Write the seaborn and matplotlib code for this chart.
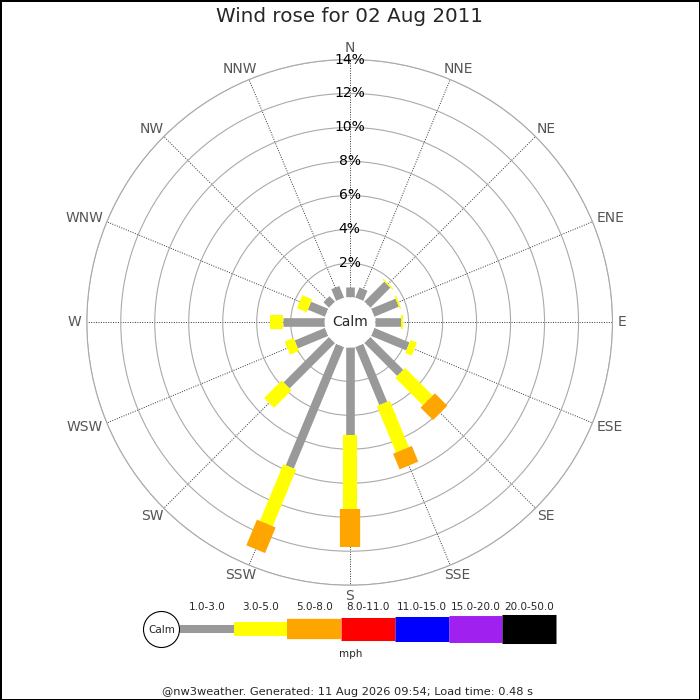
import numpy as np
import matplotlib
matplotlib.use('Agg')
import matplotlib.pyplot as plt
from matplotlib.patches import Circle
import seaborn as sns

sns.set_theme(style="white")
plt.rcParams['font.family'] = ['DejaVu Sans']

# wind directions, clockwise from north
directions = ['N', 'NNE', 'NE', 'ENE', 'E', 'ESE', 'SE', 'SSE',
              'S', 'SSW', 'SW', 'WSW', 'W', 'WNW', 'NW', 'NNW']

# frequency (%) of each speed band per direction
pct_1_3 = [0.60, 0.65, 1.67, 1.56, 1.57, 2.24, 2.74, 3.70,
           5.18, 7.74, 3.78, 1.93, 2.45, 1.09, 0.46, 0.74]
pct_3_5 = [0.00, 0.00, 0.08, 0.09, 0.10, 0.41, 2.29, 2.95,
           4.31, 3.61, 1.46, 0.57, 0.79, 0.63, 0.00, 0.00]
pct_5_8 = [0.00, 0.00, 0.00, 0.00, 0.00, 0.00, 1.04, 1.00,
           2.26, 1.63, 0.00, 0.00, 0.00, 0.00, 0.00, 0.00]

speed_bins = ['1.0-3.0', '3.0-5.0', '5.0-8.0', '8.0-11.0',
              '11.0-15.0', '15.0-20.0', '20.0-50.0']
bin_colors = ['#999999', '#ffff00', '#ffa500', '#ff0000',
              '#0000ff', '#a020f0', '#000000']
bin_widths = [6.2, 10.1, 14.6, 16.6, 18.0, 19.4, 20.9]  # points

ring_pct = [2, 4, 6, 8, 10, 12, 14]

fig = plt.figure(figsize=(7, 7), dpi=100)
fig.patch.set_edgecolor('black')
fig.patch.set_linewidth(2)

ax = fig.add_axes([0.124, 0.164, 0.751, 0.751], projection='polar')
ax.set_theta_zero_location('N')
ax.set_theta_direction(-1)
ax.set_ylim(0, 14)
ax.set_rorigin(-1.47)

thetas = np.deg2rad(np.arange(16) * 22.5)
ax.set_xticks(thetas)
ax.set_xticklabels([])
ax.set_yticks(ring_pct)
ax.set_yticklabels([])
ax.set_axisbelow(True)
ax.xaxis.grid(True, linestyle=(0, (1, 1.5)), color='#333333', lw=0.7)
ax.yaxis.grid(True, linestyle='-', color='#aaaaaa', lw=0.8)
ax.spines['polar'].set_color('#aaaaaa')
ax.spines['polar'].set_linewidth(0.8)
ax.spines['inner'].set_linewidth(0)
ax.spines['inner'].set_edgecolor('none')

stack = np.array([pct_1_3, pct_3_5, pct_5_8])
tops = np.cumsum(stack, axis=0)
bottoms = tops - stack
for j in range(stack.shape[0]):
    for i, th in enumerate(thetas):
        if stack[j, i] <= 0:
            continue
        ax.plot([th, th], [bottoms[j, i], tops[j, i]], color=bin_colors[j],
                lw=bin_widths[j], solid_capstyle='butt', zorder=3)

for r in ring_pct:
    ax.text(0, r, f'{r}%', ha='center', va='center', fontsize=10,
            color='black', zorder=6)

ax.add_patch(Circle((0.5, 0.5), 25 / 526, transform=ax.transAxes,
                    facecolor='white', edgecolor='none', zorder=5))
ax.text(0.5, 0.5, 'Calm', transform=ax.transAxes, ha='center',
        va='center', fontsize=10, zorder=6)

# compass labels sit just outside the outer ring, pushed out by their size
compass = [ax.annotate(lab, xy=(th, 14), xytext=(0, 0),
                       textcoords='offset pixels', ha='center', va='center',
                       fontsize=10, color='#555555', annotation_clip=False)
           for th, lab in zip(thetas, directions)]
fig.canvas.draw()
renderer = fig.canvas.get_renderer()
for th, t in zip(thetas, compass):
    w = t.get_window_extent(renderer).width
    gap = 5.5
    t.set_position((np.sin(th) * (w / 2 + gap), np.cos(th) * (5.5 + gap)))

# legend and captions in pixel coordinates
lg = fig.add_axes([0, 0, 1, 1], zorder=-1)
lg.set_xlim(0, 700)
lg.set_ylim(700, 0)
lg.axis('off')
lg.patch.set_alpha(0)

edges = np.linspace(180, 556, len(speed_bins) + 1)
for k, lab in enumerate(speed_bins):
    lg.plot([edges[k], edges[k + 1]], [629, 629], color=bin_colors[k],
            lw=bin_widths[k] * (0.93 if k == 0 else 1), solid_capstyle='butt')
    lg.text((edges[k] + edges[k + 1]) / 2, 607, lab, ha='center',
            va='center', fontsize=7.5)
lg.add_patch(Circle((161.5, 629.5), 18, facecolor='white',
                    edgecolor='black', lw=0.8))
lg.text(161.5, 630, 'Calm', ha='center', va='center', fontsize=7.5)
lg.text(351, 654, 'mph', ha='center', va='center', fontsize=7.5)

fig.text(0.5, 1 - 17 / 700, 'Wind rose for 02 Aug 2011', ha='center',
         va='center', fontsize=14.3)
fig.text(348 / 700, 1 - 692 / 700,
         '@nw3weather. Generated: 11 Aug 2026 09:54; Load time: 0.48 s',
         ha='center', va='center', fontsize=8.2)

fig.savefig('out.png', dpi=100)
